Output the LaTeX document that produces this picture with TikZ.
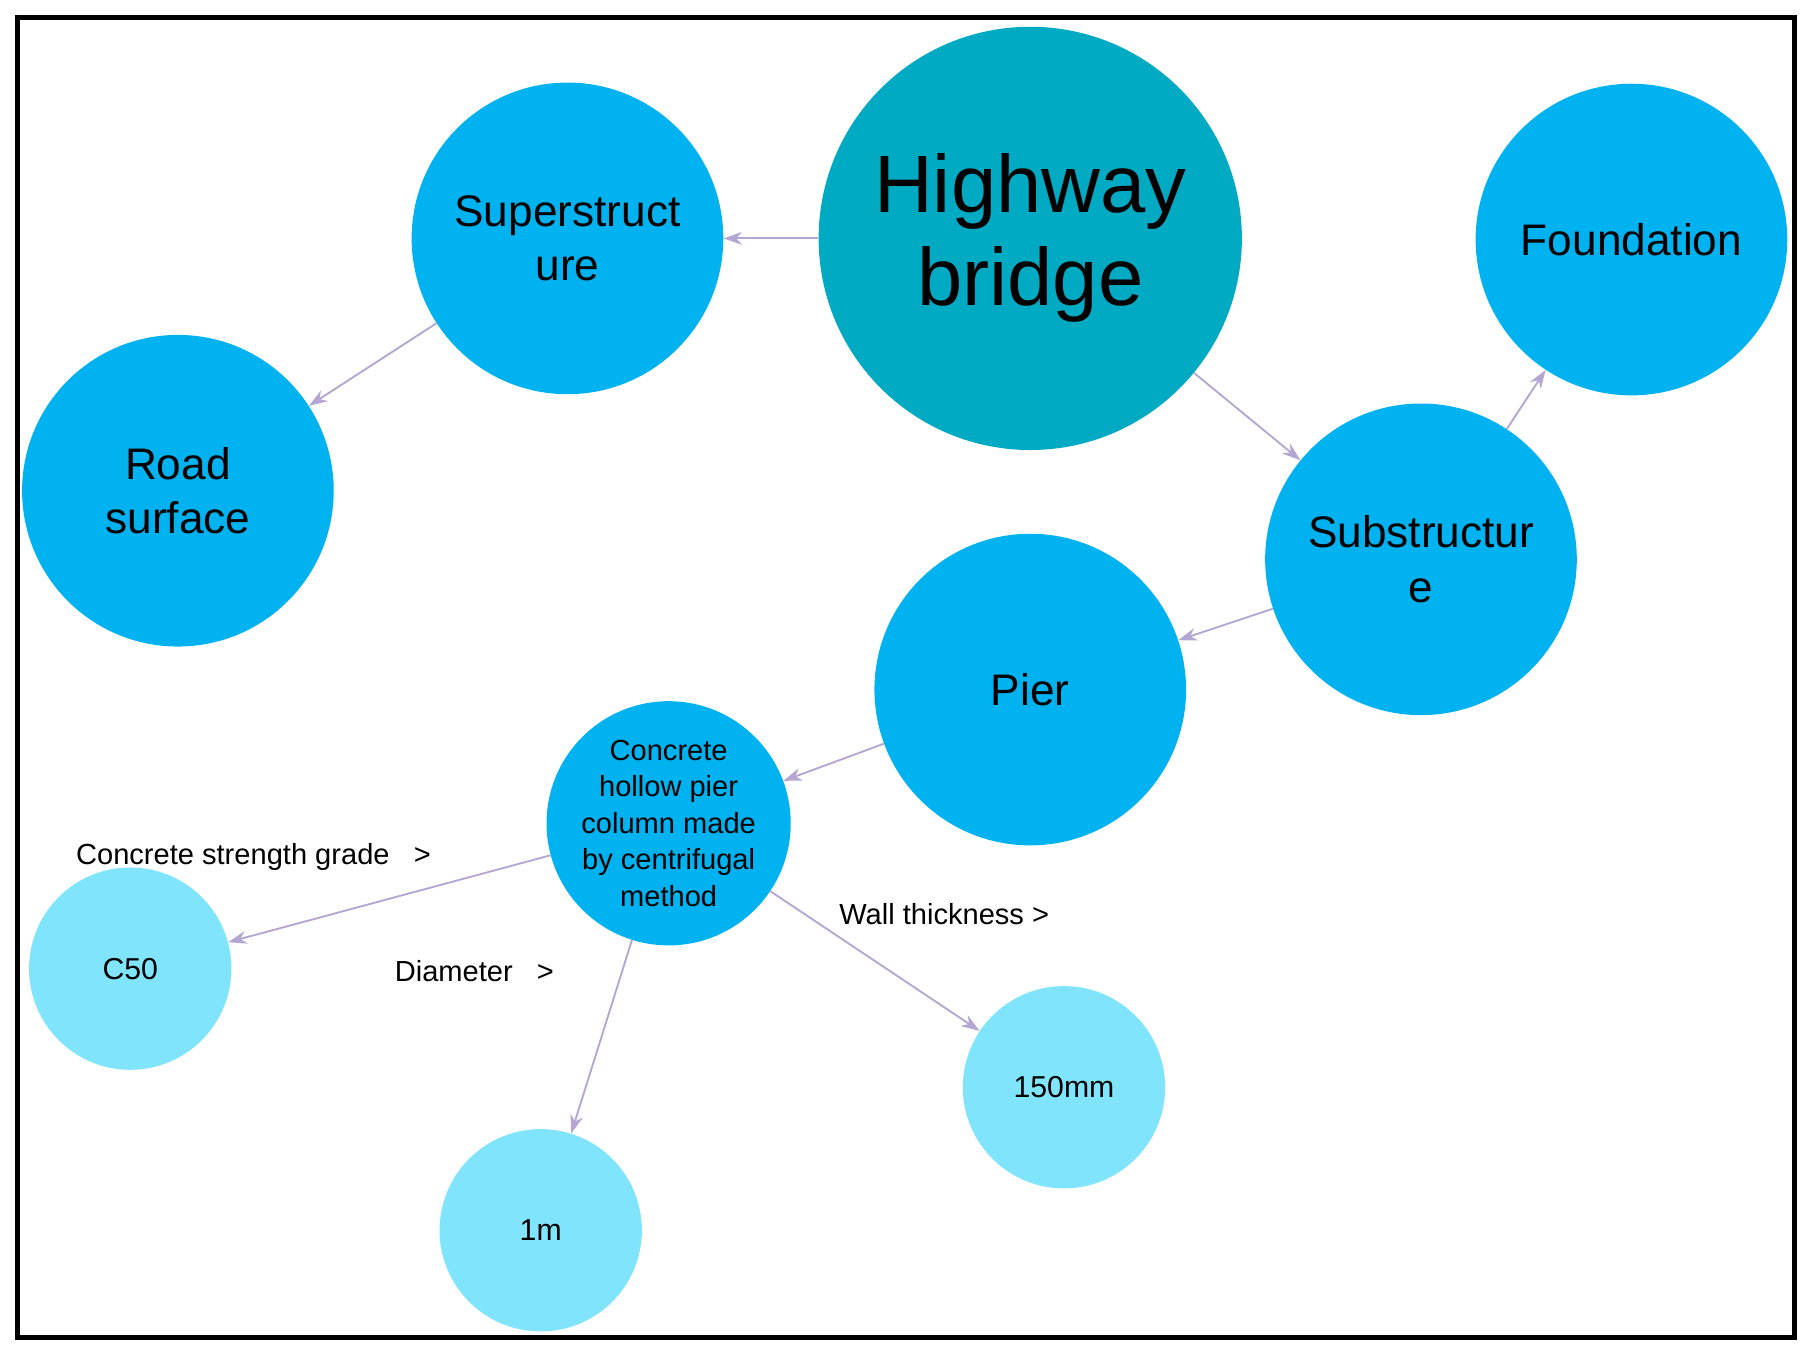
\documentclass[tikz,border=0pt]{standalone}
\usepackage{fontspec}
\setmainfont{Liberation Sans}
\usetikzlibrary{arrows.meta}
\definecolor{teal1}{HTML}{00AAC2}
\definecolor{blue1}{HTML}{00B2F0}
\definecolor{light1}{HTML}{80E4FC}
\definecolor{edge}{HTML}{B4A6D2}
\begin{document}
\begin{tikzpicture}[x=1pt,y=-1pt,
  big/.style={circle,fill=blue1,minimum size=268pt,inner sep=0pt,align=center,font=\fontsize{38}{47}\selectfont},
  leaf/.style={circle,fill=light1,minimum size=174pt,inner sep=0pt,align=center,font=\fontsize{26}{32}\selectfont},
  lbl/.style={font=\fontsize{25}{30}\selectfont,inner sep=0pt},
  conn/.style={draw=edge,line width=1.6pt,-{Stealth[length=16pt,width=11pt]}}]
\useasboundingbox (0,0) rectangle (1560,1160);
\draw[line width=4pt] (15,15) rectangle (1543,1150);
\node[circle,fill=teal1,minimum size=364pt,inner sep=0pt,align=center,font=\fontsize{70}{80}\selectfont] (hb) at (886,205) {Highway\\bridge};
\node[big] (sup) at (488,205) {Superstruct\\ure};
\node[big] (fou) at (1403,206) {Foundation};
\node[big] (road) at (153,422) {Road\\surface};
\node[big] (sub) at (1222,481) {Substructur\\e};
\node[big] (pier) at (886,593) {Pier};
\node[circle,fill=blue1,minimum size=210pt,inner sep=0pt,align=center,font=\fontsize{25}{31.5}\selectfont] (con) at (575,708) {Concrete\\hollow pier\\column made\\by centrifugal\\method};
\node[leaf] (c50) at (112,833) {C50};
\node[leaf] (one) at (465,1058) {1m};
\node[leaf] (mm) at (915,935) {150mm};
\draw[conn] (hb) -- (sup);
\draw[conn] (sup) -- (road);
\draw[conn] (hb) -- (sub);
\draw[conn] (sub) -- (fou);
\draw[conn] (sub) -- (pier);
\draw[conn] (pier) -- (con);
\draw[conn] (con) -- (c50);
\draw[conn] (con) -- (one);
\draw[conn] (con) -- (mm);
\node[lbl] (l1) at (218,737) {Concrete strength grade \ \ >};
\node[lbl] (l2) at (408,835) {Diameter \ \ >};
\node[lbl] (l3) at (812,786) {Wall thickness >};
\end{tikzpicture}
\end{document}
